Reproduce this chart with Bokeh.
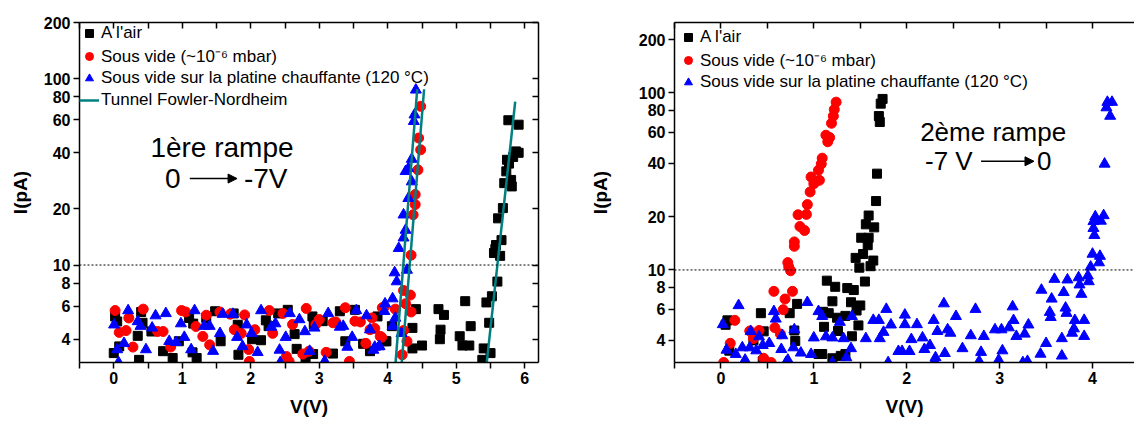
from bokeh.plotting import figure
from bokeh.models import (Range1d, FixedTicker, LinearAxis, LogAxis, Span, Label,
                          Arrow, NormalHead, Legend, LegendItem, PrintfTickFormatter,
                          CustomJSTickFormatter)
from bokeh.layouts import row
from bokeh.embed import file_html
from bokeh.resources import INLINE

FONT = "Liberation Sans"

LABEL_AIR = "A l'air"
LABEL_VAC = "Sous vide (~10\u207b\u2076 mbar)"
LABEL_HOT = "Sous vide sur la platine chauffante (120 \u00b0C)"
LABEL_FN = "Tunnel Fowler-Nordheim"

Y_TICKS = [4, 6, 8, 10, 20, 40, 60, 80, 100, 200]
X_TICKS_L = [0, 1, 2, 3, 4, 5, 6]
X_MINOR_L = [-0.5, 0.5, 1.5, 2.5, 3.5, 4.5, 5.5]
X_TICKS_R = [0, 1, 2, 3, 4]
X_MINOR_R = [-0.5, 0.5, 1.5, 2.5, 3.5]

# ---------------- 1ere rampe (left) ----------------
l_air_v = [0.02, 0.05, 0.0, 0.08, 0.35, 0.40, 0.42, 0.37, 0.55, 0.72, 0.86, 0.95, 1.10, 1.16,
           1.15, 1.21, 1.35, 1.48, 1.56, 1.75, 1.81, 1.82, 2.02, 2.15, 2.22, 2.26, 2.40, 2.54,
           2.64, 2.67, 2.80, 2.90, 2.92, 2.91, 3.05, 3.20, 3.30, 3.38, 3.52, 3.64, 3.74, 3.85,
           3.98, 3.96, 4.06, 4.36, 4.36, 4.41, 4.50, 4.74, 4.77, 4.76, 4.82, 5.05, 5.09, 5.13,
           5.19, 5.21, 5.38, 5.40, 5.44, 5.48, 5.50, 5.52, 5.55, 5.57, 5.58, 5.60, 5.61, 5.64,
           5.66, 5.68, 5.70, 5.73, 5.74, 5.77, 5.80, 5.81, 5.83, 5.87, 5.91, 5.76, 5.91]
l_air_i = [5.3, 4.98, 3.37, 3.66, 4.17, 5.6, 4.9, 3.1, 4.4, 3.45, 3.17, 3.9, 5.2, 4.85,
           3.4, 3.17, 5.2, 5.65, 3.9, 5.5, 4.78, 3.3, 4.0, 3.95, 5.05, 4.7, 5.5, 5.75,
           4.26, 3.55, 3.05, 5.3, 4.8, 3.33, 5.0, 3.35, 5.65, 3.9, 5.75, 3.78, 3.45, 5.3,
           3.9, 3.9, 4.7, 4.6, 3.57, 5.8, 3.7, 5.8, 4.5, 4.0, 5.4, 4.15, 3.7, 6.4,
           3.7, 4.7, 3.1, 3.57, 6.3, 4.9, 3.37, 6.8, 11.6, 12.2, 12.8, 8.15, 17.8, 11.2,
           13.6, 20.2, 27.5, 31.8, 36.7, 35.0, 28.6, 26.4, 38.0, 40.7, 40.0, 59.8, 56.6]

l_vac_v = [0.02, 0.08, 0.18, 0.22, 0.28, 0.43, 0.64, 0.72, 0.83, 0.99, 1.05, 1.20, 1.30, 1.35,
           1.40, 1.55, 1.70, 1.76, 1.86, 1.91, 1.97, 1.98, 2.06, 2.27, 2.32, 2.47, 2.52, 2.56,
           2.61, 2.76, 2.81, 2.85, 2.95, 3.00, 3.10, 3.20, 3.24, 3.38, 3.44, 3.52, 3.60, 3.68,
           3.74, 3.89, 3.92, 3.77, 3.81, 3.91, 3.95, 4.11, 4.21, 4.23, 4.23, 4.26, 4.28, 4.33,
           4.34, 4.34, 4.37, 4.40, 4.40, 4.44, 4.45, 4.48, 4.48]
l_vac_i = [5.7, 4.35, 4.45, 5.2, 3.63, 5.8, 4.4, 4.4, 3.63, 5.7, 5.6, 4.68, 4.14, 5.38,
           3.73, 5.6, 5.45, 4.5, 4.3, 5.4, 3.52, 3.04, 4.5, 5.7, 4.3, 5.5, 3.23, 3.04,
           4.8, 3.33, 5.85, 3.45, 4.8, 5.1, 3.4, 4.9, 4.95, 5.9, 3.04, 5.0, 4.95, 3.8,
           4.5, 4.14, 5.9, 5.2, 4.57, 4.1, 5.95, 5.8, 3.3, 4.45, 7.3, 6.2, 3.9, 6.9,
           5.6, 11.3, 18.6, 21.1, 23.9, 32.4, 48.0, 41.5, 71.0]

l_hot_v = [0.005, 0.05, 0.07, 0.15, 0.21, 0.35, 0.39, 0.47, 0.56, 0.61, 0.76, 0.81, 0.91, 0.98,
           1.03, 1.13, 1.18, 1.32, 1.40, 1.45, 1.55, 1.59, 1.74, 1.80, 1.88, 1.94, 2.01, 2.10,
           2.15, 2.30, 2.36, 2.42, 2.43, 2.51, 2.57, 2.71, 2.79, 2.86, 2.93, 3.08, 3.13, 3.30,
           3.35, 3.41, 3.48, 3.54, 3.69, 3.74, 3.81, 3.88, 3.95, 3.79, 3.87, 3.96, 4.07, 4.07,
           4.10, 4.11, 4.13, 4.16, 4.20, 4.23, 4.23, 4.26, 4.28, 4.30, 4.30, 4.26, 4.35, 4.35,
           4.38, 4.39, 4.41]
l_hot_i = [4.78, 3.52, 3.0, 3.8, 5.7, 4.98, 4.7, 3.52, 4.6, 5.35, 5.5, 3.9, 3.85, 4.85,
           4.1, 3.52, 5.7, 4.7, 4.7, 3.45, 4.3, 5.45, 5.45, 4.1, 3.66, 4.78, 4.3, 3.4,
           5.7, 4.65, 4.85, 3.5, 3.0, 4.1, 5.5, 5.1, 4.4, 3.45, 4.6, 3.05, 5.5, 4.65,
           4.7, 3.63, 4.1, 5.7, 5.35, 4.5, 3.63, 3.66, 5.65, 3.5, 3.65, 6.2, 6.6, 4.7,
           9.1, 5.2, 8.15, 12.3, 4.3, 14.0, 18.6, 15.4, 9.4, 22.8, 33.0, 31.8, 28.0, 37.0,
           59.0, 64.0, 87.0]

# Fowler-Nordheim fits (end points of each fitted line)
fn_v = [[4.11, 4.43], [4.20, 4.53], [5.44, 5.86]]
fn_i = [[2.89, 87.7], [2.89, 87.7], [2.89, 75.3]]

# ---------------- 2eme rampe (right) ----------------
r_air_v = [1.74, 1.72, 1.70, 1.71, 1.68, 1.67, 1.59, 1.65, 1.56, 1.51, 1.59, 1.58, 1.53, 1.45,
           1.64, 1.49, 1.61, 1.55, 1.14, 1.23, 1.36, 1.43, 1.20, 1.40, 0.82, 1.46, 1.50, 0.43,
           0.74, 1.16, 1.25, 1.34, 0.07, 1.11, 1.26, 1.48, 0.79, 0.80, 1.41, 0.46, 0.35, 0.09,
           1.09, 1.05, 1.20, 1.29, 1.34, 0.05, 0.45, 1.10]
r_air_i = [92.5, 87.0, 74.0, 68.5, 35.0, 24.5, 20.3, 17.4, 18.1, 15.2, 15.2, 13.8, 12.3, 11.7,
           11.3, 10.3, 10.5, 8.6, 8.7, 8.03, 7.9, 7.7, 6.65, 6.57, 6.43, 5.9, 6.3, 5.7,
           5.7, 5.7, 5.37, 5.5, 5.19, 4.77, 4.52, 4.86, 4.55, 3.97, 4.22, 4.5, 4.0, 3.5,
           3.35, 3.35, 3.17, 3.27, 3.35, 4.9, 3.05, 5.8]

r_vac_v = [1.24, 1.22, 1.21, 1.19, 1.13, 1.17, 1.15, 1.09, 1.08, 1.05, 0.97, 1.06, 1.00, 0.96,
           0.93, 0.83, 0.92, 0.85, 0.90, 0.79, 0.79, 0.72, 0.73, 0.75, 0.57, 0.77, 0.69, 0.67,
           0.15, 0.58, 0.31, 0.41, 0.35, 0.64, 0.10, 0.03, 0.54, 0.46]
r_vac_i = [88.7, 80.7, 74.0, 67.4, 57.7, 56.0, 53.0, 42.8, 39.7, 36.6, 33.5, 32.1, 30.7, 27.6,
           23.4, 20.5, 20.6, 17.6, 16.7, 14.4, 13.6, 11.0, 10.4, 9.9, 7.57, 7.57, 6.85, 5.96,
           5.19, 4.72, 4.52, 4.55, 4.1, 4.35, 3.85, 3.0, 3.0, 3.17]

r_hot_v = [0.02, 0.19, 0.06, 0.16, 0.23, 0.26, 0.32, 0.31, 0.38, 0.41, 0.45, 0.52, 0.57, 0.59,
           0.66, 0.65, 0.72, 0.78, 0.79, 0.86, 0.93, 0.97, 1.00, 1.05, 1.09, 1.13, 1.20, 1.28,
           1.32, 1.35, 1.40, 1.41, 1.56, 1.64, 1.70, 1.71, 1.75, 1.78, 1.83, 1.91, 1.95, 1.98,
           1.98, 2.03, 2.05, 2.11, 2.17, 2.19, 2.25, 2.29, 2.31, 2.33, 2.40, 2.41, 2.44, 2.47,
           2.53, 2.60, 2.69, 2.74, 0.25, 0.70, 1.20, 1.80, 2.30, 2.78,
           4.16, 4.21, 4.15, 4.19, 4.13, 4.03, 4.12, 4.01, 4.09, 4.01, 4.02, 4.00, 4.08, 4.07,
           3.98, 3.95, 3.85, 3.96, 3.59, 3.73, 3.86, 3.88, 3.45, 3.56, 3.69, 3.54, 3.71, 3.72,
           3.55, 3.81, 3.91, 3.80, 3.78, 3.91, 3.67, 3.50, 3.44, 3.67, 3.14, 3.15, 3.10, 3.18,
           3.27, 3.31, 3.02, 2.95, 2.83, 3.03, 2.99, 2.80, 3.30, 3.25]
r_hot_i = [4.92, 6.3, 3.53, 3.34, 3.64, 3.1, 4.5, 3.64, 3.5, 4.2, 3.75, 3.85, 5.83, 5.29,
           4.26, 3.56, 3.1, 3.64, 4.6, 3.4, 6.56, 3.34, 4.14, 5.83, 5.47, 4.2, 4.14, 5.07,
           4.1, 3.2, 3.6, 5.47, 4.1, 5.2, 5.2, 4.1, 4.45, 6.0, 4.9, 3.47, 3.47, 5.57,
           4.92, 3.47, 4.05, 4.92, 4.14, 3.56, 3.75, 5.2, 3.2, 4.5, 6.45, 3.38, 4.6, 4.4,
           5.47, 3.6, 4.26, 6.0, 3.0, 3.0, 3.0, 3.0, 3.05, 3.05,
           88.7, 88.7, 82.6, 74.0, 39.7, 20.0, 20.3, 18.8, 18.9, 17.2, 15.7, 12.3, 11.97, 11.0,
           10.4, 9.26, 9.05, 8.6, 8.87, 8.8, 8.25, 7.3, 7.7, 6.86, 7.47, 5.77, 6.1, 5.7,
           5.4, 5.19, 5.2, 4.66, 4.4, 4.22, 4.1, 3.85, 3.35, 3.27, 6.2, 5.19, 4.72, 4.22,
           4.35, 4.9, 4.6, 4.6, 4.22, 3.5, 3.1, 3.43, 3.05, 3.0]


def style_axis(ax, out=True, labels=True):
    ax.axis_line_width = 1.5
    ax.axis_line_color = "black"
    ax.major_tick_line_width = 1.5
    ax.minor_tick_line_width = 1.5
    ax.major_tick_line_color = "black"
    ax.minor_tick_line_color = "black"
    if out:
        ax.major_tick_out = 6
        ax.major_tick_in = 0
        ax.minor_tick_out = 6
        ax.minor_tick_in = 0
    else:
        ax.major_tick_out = 0
        ax.major_tick_in = 6
        ax.minor_tick_out = 0
        ax.minor_tick_in = 6
    if labels:
        ax.major_label_text_font = FONT
        ax.major_label_text_font_style = "bold"
        ax.major_label_text_font_size = "16px"
        ax.major_label_text_color = "black"
        ax.major_label_standoff = 3
        ax.axis_label_text_font = FONT
        ax.axis_label_text_font_style = "bold"
        ax.axis_label_text_font_size = "19px"
        ax.axis_label_text_color = "black"
    else:
        ax.formatter = CustomJSTickFormatter(code="return ''")
        ax.major_label_standoff = 0
        ax.major_label_text_font_size = "1px"


def make_panel(width, xr, yr, bl, br, bt, bb, xt, xm, ylab_standoff, right_axis):
    p = figure(width=width, height=422, x_range=Range1d(*xr), y_range=Range1d(*yr),
               y_axis_type="log", output_backend="svg", toolbar_location=None,
               min_border_left=bl, min_border_right=br, min_border_top=bt,
               min_border_bottom=bb, background_fill_color="white",
               border_fill_color="white")
    p.grid.visible = False
    p.outline_line_color = None
    xa = p.xaxis[0]
    xa.ticker = FixedTicker(ticks=xt, minor_ticks=xm)
    style_axis(xa)
    xa.axis_label = "V(V)"
    xa.axis_label_standoff = 9
    ya = p.yaxis[0]
    ya.ticker = FixedTicker(ticks=Y_TICKS, minor_ticks=[])
    ya.formatter = PrintfTickFormatter(format="%d")
    style_axis(ya)
    ya.axis_label = "I(pA)"
    ya.axis_label_standoff = ylab_standoff
    top = LinearAxis(ticker=FixedTicker(ticks=sorted(xt + xm), minor_ticks=[]))
    style_axis(top, out=False, labels=False)
    p.add_layout(top, "above")
    if right_axis:
        ra = LogAxis(ticker=FixedTicker(ticks=Y_TICKS, minor_ticks=[]))
        style_axis(ra, out=False, labels=False)
        p.add_layout(ra, "right")
    p.add_layout(Span(location=10, dimension="width", line_color="black",
                      line_dash="2 2", line_width=1))
    return p


def legend_for(p, items, margin):
    lg = Legend(items=items, location="top_left", margin=margin, padding=0, spacing=0,
                label_height=22, glyph_height=22, glyph_width=20, label_standoff=2,
                border_line_color=None, background_fill_alpha=0,
                label_text_font=FONT, label_text_font_size="17px",
                label_text_color="black")
    p.add_layout(lg)


def note(p, x, y, text, size, align="center"):
    p.add_layout(Label(x=x, y=y, text=text, text_font=FONT, text_font_size=size,
                       text_color="black", text_align=align, text_baseline="middle"))


# ---- left panel
pl = make_panel(570, (-0.5, 6.2), (3.0, 200), 79, 32, 22, 60, X_TICKS_L, X_MINOR_L, 10, True)
ra1 = pl.scatter(l_air_v, l_air_i, marker="square", size=9, color="black")
rv1 = pl.scatter(l_vac_v, l_vac_i, marker="circle", size=10, color="red")
rh1 = pl.scatter(l_hot_v, l_hot_i, marker="triangle", size=11, color="blue")
rf1 = pl.multi_line(fn_v, fn_i, line_color="#008080", line_width=2.5)
legend_for(pl, [LegendItem(label=LABEL_AIR, renderers=[ra1]),
                LegendItem(label=LABEL_VAC, renderers=[rv1]),
                LegendItem(label=LABEL_HOT, renderers=[rh1]),
                LegendItem(label=LABEL_FN, renderers=[rf1])], 0)

note(pl, 1.58, 42.7, "1\u00e8re rampe", "28px")
note(pl, 0.86, 29.1, "0", "28px")
note(pl, 1.90, 29.1, "-7V", "28px", "left")
pl.add_layout(Arrow(end=NormalHead(size=9, fill_color="black", line_color="black"),
                    x_start=1.11, y_start=29.1, x_end=1.80, y_end=29.1,
                    line_width=1.5, line_color="black"))

# ---- right panel
pr = make_panel(564, (-0.5, 4.452), (3.0, 250), 104, 0, 20, 59, X_TICKS_R, X_MINOR_R, 25, False)
ra2 = pr.scatter(r_air_v, r_air_i, marker="square", size=9, color="black")
rv2 = pr.scatter(r_vac_v, r_vac_i, marker="circle", size=10, color="red")
rh2 = pr.scatter(r_hot_v, r_hot_i, marker="triangle", size=11, color="blue")
legend_for(pr, [LegendItem(label=LABEL_AIR, renderers=[ra2]),
                LegendItem(label=LABEL_VAC, renderers=[rv2]),
                LegendItem(label=LABEL_HOT, renderers=[rh2])], 4)

note(pr, 2.93, 60.5, "2\u00e8me rampe", "26px")
note(pr, 2.71, 41.1, "-7 V", "26px", "right")
note(pr, 3.48, 41.1, "0", "26px")
pr.add_layout(Arrow(end=NormalHead(size=9, fill_color="black", line_color="black"),
                    x_start=2.80, y_start=41.1, x_end=3.37, y_end=41.1,
                    line_width=1.5, line_color="black"))

layout = row(pl, pr)
open("out.html", "w").write(file_html(layout, INLINE))
